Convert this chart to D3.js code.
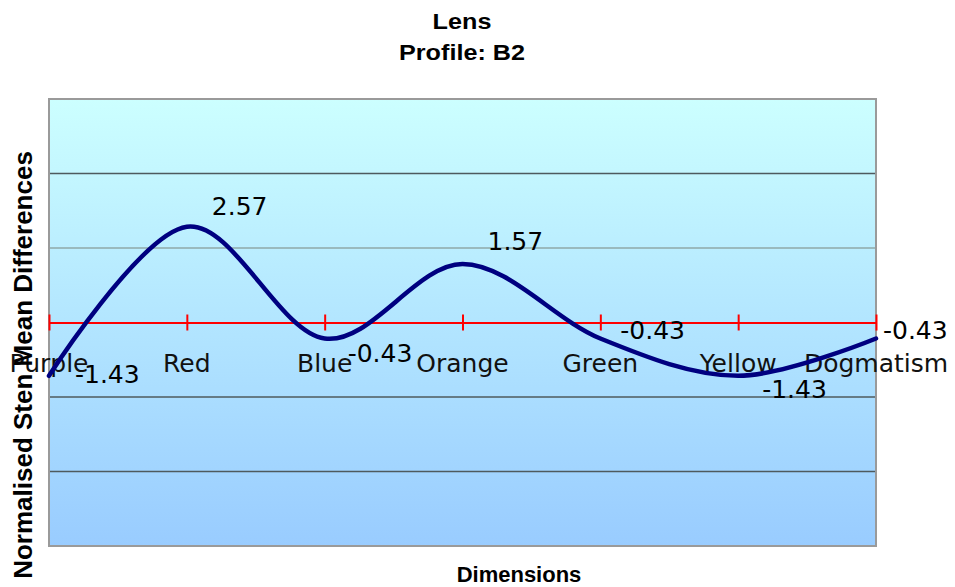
<!DOCTYPE html>
<html>
<head>
<meta charset="utf-8">
<script src="https://cdn.jsdelivr.net/npm/d3@7"></script>
<style>
  html, body { margin: 0; padding: 0; background: #ffffff; }
  svg { display: block; }
</style>
</head>
<body>
<svg id="chart" width="955" height="587"></svg>
<script>
// ---- data ----
const categories = ["Purple", "Red", "Blue", "Orange", "Green", "Yellow", "Dogmatism"];
const values = [-1.43, 2.57, -0.43, 1.57, -0.43, -1.43, -0.43];
const valueLabels = ["-1.43", "2.57", "-0.43", "1.57", "-0.43", "-1.43", "-0.43"];
const gridValues = [4, 2, -2, -4];
const yDomain = [-6, 6];
const titleLines = ["Lens", "Profile: B2"];
const xTitle = "Dimensions";
const yTitle = "Normalised Sten Mean Differences";

// ---- label placement (style, not data) ----
const labelDx = [26, 25, 23, 25, 20, 24, 7];
const labelDy = [7, -12, 23, -14, 0, 22, 0];

// ---- layout ----
const plot = { left: 49, right: 876, top: 99, bottom: 546 };
const svg = d3.select("#chart");

const x = d3.scalePoint().domain(categories).range([plot.left, plot.right]).padding(0);
const y = d3.scaleLinear().domain(yDomain).range([plot.bottom, plot.top]);

// background gradient
const defs = svg.append("defs");
const grad = defs.append("linearGradient").attr("id", "bg").attr("x1", 0).attr("y1", 0).attr("x2", 0).attr("y2", 1);
grad.append("stop").attr("offset", "0%").attr("stop-color", "#ccffff");
grad.append("stop").attr("offset", "100%").attr("stop-color", "#99ccff");

svg.append("rect")
  .attr("x", plot.left).attr("y", plot.top)
  .attr("width", plot.right - plot.left).attr("height", plot.bottom - plot.top)
  .attr("fill", "url(#bg)");

// gridlines
svg.append("g").selectAll("line").data(gridValues).join("line")
  .attr("x1", plot.left).attr("x2", plot.right)
  .attr("y1", d => y(d)).attr("y2", d => y(d))
  .attr("stroke", d => d === 2 ? "#8fa8a8" : "#4e5a5e")
  .attr("stroke-width", 1.3);

// plot border
svg.append("rect")
  .attr("x", plot.left).attr("y", plot.top)
  .attr("width", plot.right - plot.left).attr("height", plot.bottom - plot.top)
  .attr("fill", "none").attr("stroke", "#9a9a9a").attr("stroke-width", 2);

// zero axis (red) with ticks
const xAxis = d3.axisBottom(x).tickSize(0).tickFormat("");
const axisG = svg.append("g").attr("transform", `translate(0,${y(0)})`).call(xAxis);
axisG.select(".domain").attr("stroke", "#ff0000").attr("stroke-width", 2);
axisG.selectAll(".tick line").remove();
axisG.selectAll(".tick").append("line")
  .attr("y1", -8).attr("y2", 8)
  .attr("stroke", "#ff0000").attr("stroke-width", 2);

// category labels
svg.append("g").selectAll("text").data(categories).join("text")
  .attr("x", d => x(d)).attr("y", 372)
  .attr("text-anchor", "middle")
  .attr("font-family", "'DejaVu Sans', Verdana, sans-serif")
  .attr("font-size", 25)
  .attr("fill", "#111")
  .text(d => d);

// line
const line = d3.line()
  .x((d, i) => x(categories[i]))
  .y(d => y(d))
  .curve(d3.curveCardinal.tension(0));

svg.append("path")
  .datum(values)
  .attr("d", line)
  .attr("fill", "none")
  .attr("stroke", "#000080")
  .attr("stroke-width", 4.5)
  .attr("stroke-linecap", "round");

// value labels
svg.append("g").selectAll("text").data(values).join("text")
  .attr("x", (d, i) => x(categories[i]) + labelDx[i])
  .attr("y", (d, i) => y(d) + labelDy[i])
  .attr("font-family", "'DejaVu Sans', Verdana, sans-serif")
  .attr("font-size", 25)
  .attr("fill", "#000")
  .text((d, i) => valueLabels[i]);

// titles
const titleY = [29, 60];
svg.append("g").selectAll("text").data(titleLines).join("text")
  .attr("transform", (d, i) => `translate(462,${titleY[i]}) scale(1.12,1)`)
  .attr("text-anchor", "middle")
  .attr("font-family", "'Liberation Sans', Arial, sans-serif")
  .attr("font-weight", "bold")
  .attr("font-size", 22.5)
  .attr("fill", "#000")
  .text(d => d);

svg.append("text")
  .attr("x", 519).attr("y", 582)
  .attr("text-anchor", "middle")
  .attr("font-family", "'Liberation Sans', Arial, sans-serif")
  .attr("font-weight", "bold")
  .attr("font-size", 22)
  .attr("fill", "#000")
  .text(xTitle);

svg.append("text")
  .attr("transform", "translate(32,365) rotate(-90)")
  .attr("text-anchor", "middle")
  .attr("font-family", "'Liberation Sans', Arial, sans-serif")
  .attr("font-weight", "bold")
  .attr("font-size", 26)
  .attr("fill", "#000")
  .text(yTitle);
</script>
</body>
</html>
